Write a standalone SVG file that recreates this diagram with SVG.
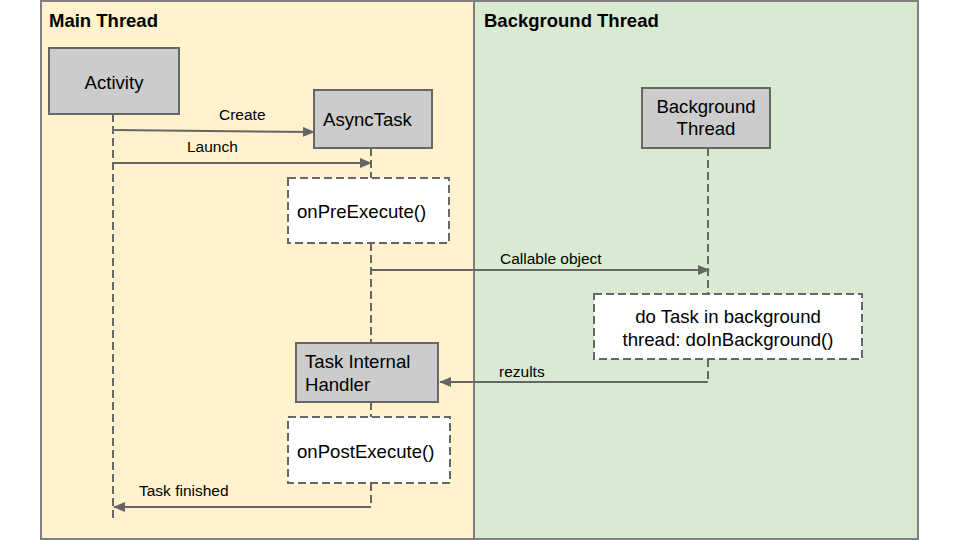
<svg xmlns="http://www.w3.org/2000/svg" width="960" height="540" viewBox="0 0 960 540">
<defs>
<marker id="ah" markerWidth="12" markerHeight="10" refX="11" refY="5" orient="auto" markerUnits="userSpaceOnUse">
<path d="M0,0 L12,5 L0,10 Z" fill="#666666"/>
</marker>
<style>
.panel{stroke:#7f7f7f;stroke-width:2}
.title{font-family:"Liberation Sans",Arial,sans-serif;font-weight:bold;font-size:18.5px;fill:#000}
.box{fill:#cccccc;stroke:#666666;stroke-width:2}
.dbox{fill:#ffffff;stroke:#666666;stroke-width:2;stroke-dasharray:8,4}
.t{font-family:"Liberation Sans",Arial,sans-serif;font-size:18.6px;fill:#000}
.lbl{font-family:"Liberation Sans",Arial,sans-serif;font-size:15.5px;fill:#000}
.life{stroke:#666666;stroke-width:2;stroke-dasharray:8,4;fill:none}
.arr{stroke:#666666;stroke-width:2;fill:none;marker-end:url(#ah)}
</style>
</defs>
<rect width="960" height="540" fill="#ffffff"/>
<g id="main-thread">
<rect class="panel" x="41" y="1" width="433" height="538" fill="#fff2cc"/>
<text class="title" x="49" y="27">Main Thread</text>
</g>
<g id="background-thread-panel">
<rect class="panel" x="474" y="1" width="444" height="538" fill="#d9ead3"/>
<text class="title" x="484" y="27">Background Thread</text>
</g>
<g id="connectors">
<line class="life" x1="113" y1="114" x2="113" y2="518"/>
<line class="life" x1="371" y1="148" x2="371" y2="178"/>
<line class="life" x1="371" y1="243" x2="371" y2="343"/>
<line class="life" x1="371" y1="402" x2="371" y2="417"/>
<line class="life" x1="371" y1="483" x2="371" y2="507"/>
<line class="life" x1="708" y1="148" x2="708" y2="294"/>
<line class="life" x1="708" y1="359" x2="708" y2="382"/>
<line class="arr" x1="114" y1="130" x2="314" y2="132"/>
<text class="lbl" x="219" y="120">Create</text>
<line class="arr" x1="114" y1="163" x2="371" y2="163"/>
<text class="lbl" x="187" y="152">Launch</text>
<line class="arr" x1="371" y1="270" x2="709" y2="270"/>
<text class="lbl" x="500" y="264">Callable object</text>
<line class="arr" x1="708" y1="382" x2="440" y2="382"/>
<text class="lbl" x="499" y="377">rezults</text>
<line class="arr" x1="371" y1="507" x2="114" y2="507"/>
<text class="lbl" x="139" y="496">Task finished</text>
</g>
<g id="activity">
<rect class="box" x="49" y="48" width="130" height="66"/>
<text class="t" x="114" y="89" text-anchor="middle">Activity</text>
</g>
<g id="asynctask">
<rect class="box" x="314" y="90" width="118" height="58"/>
<text class="t" x="323" y="126">AsyncTask</text>
</g>
<g id="onpreexecute">
<rect class="dbox" x="288" y="178" width="161" height="65"/>
<text class="t" x="297" y="218">onPreExecute()</text>
</g>
<g id="background-thread">
<rect class="box" x="642" y="88" width="128" height="60"/>
<text class="t" x="706" y="113" text-anchor="middle">Background</text>
<text class="t" x="706" y="135" text-anchor="middle">Thread</text>
</g>
<g id="do-task">
<rect class="dbox" x="594" y="294" width="268" height="65"/>
<text class="t" x="728" y="323" text-anchor="middle">do Task in background</text>
<text class="t" x="728" y="346" text-anchor="middle">thread: doInBackground()</text>
</g>
<g id="task-internal-handler">
<rect class="box" x="296" y="343" width="142" height="59"/>
<text class="t" x="305" y="368">Task Internal</text>
<text class="t" x="305" y="391">Handler</text>
</g>
<g id="onpostexecute">
<rect class="dbox" x="288" y="417" width="162" height="66"/>
<text class="t" x="297" y="458">onPostExecute()</text>
</g>
</svg>
